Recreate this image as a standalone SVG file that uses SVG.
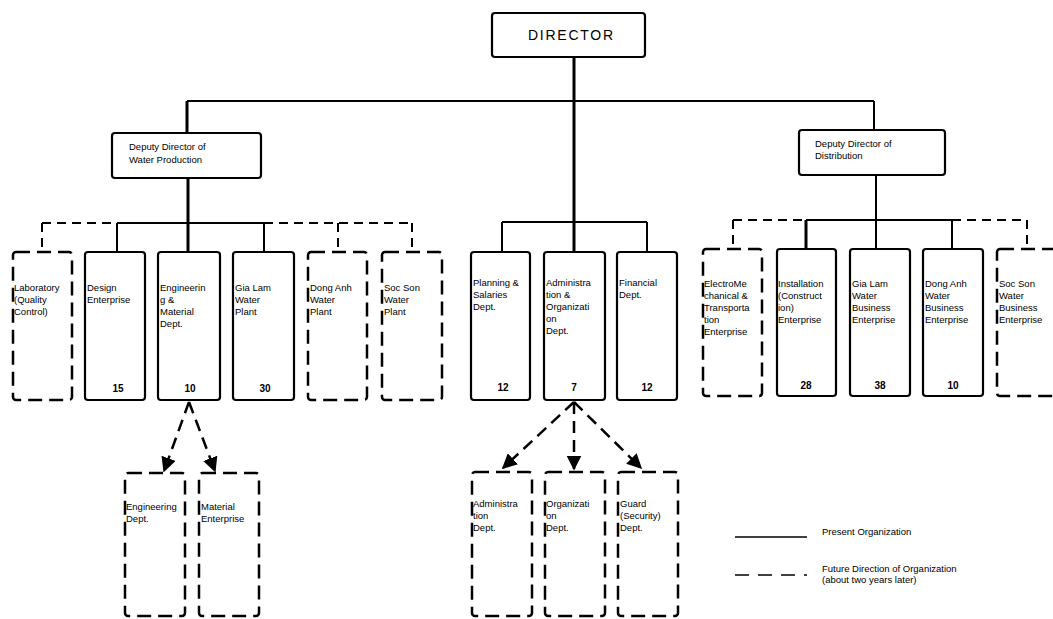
<svg xmlns="http://www.w3.org/2000/svg" width="1053" height="619" viewBox="0 0 1053 619">
<defs>
<style>
.bx{fill:#fff;stroke:#000;stroke-width:2.2}
.fut{fill:#fff;stroke:#000;stroke-width:2.5;stroke-dasharray:14 7}
.t{font-family:"Liberation Sans",Arial,sans-serif;font-size:9.5px;fill:#000}
.n{font-family:"Liberation Sans",Arial,sans-serif;font-size:10px;font-weight:bold;fill:#000;text-anchor:middle}
.ln{stroke:#000;stroke-width:2;fill:none}
.thick{stroke:#000;stroke-width:3;fill:none}
.dl{stroke:#000;stroke-width:2;fill:none;stroke-dasharray:9 6}
.ar{stroke:#000;stroke-width:2.5;fill:none;stroke-dasharray:12 7}
</style>
<marker id="ah" viewBox="0 0 10 10" refX="9" refY="5" markerWidth="6" markerHeight="6" orient="auto" markerUnits="strokeWidth">
<path d="M0,0 L10,5 L0,10 z" fill="#000"/>
</marker>
</defs>
<rect width="1053" height="619" fill="#fff"/>
<g id="connectors">
<line class="thick" x1="574" y1="57" x2="574" y2="252"/>
<line class="ln" x1="187" y1="101" x2="874" y2="101"/>
<line class="thick" x1="187" y1="101" x2="187" y2="133"/>
<line class="thick" x1="188" y1="178" x2="188" y2="252"/>
<line class="ln" x1="874" y1="101" x2="874" y2="130"/>
<line class="ln" x1="876" y1="175" x2="876" y2="249"/>
<line class="dl" x1="42" y1="223" x2="117" y2="223"/>
<line class="ln" x1="117" y1="223" x2="264" y2="223"/>
<line class="dl" x1="264" y1="223" x2="412" y2="223"/>
<line class="dl" x1="42" y1="223" x2="42" y2="252"/>
<line class="ln" x1="117" y1="223" x2="117" y2="252"/>
<line class="ln" x1="264" y1="223" x2="264" y2="252"/>
<line class="dl" x1="338" y1="223" x2="338" y2="252"/>
<line class="dl" x1="412" y1="223" x2="412" y2="252"/>
<line class="ln" x1="502" y1="222" x2="647" y2="222"/>
<line class="ln" x1="502" y1="222" x2="502" y2="252"/>
<line class="ln" x1="647" y1="222" x2="647" y2="252"/>
<line class="dl" x1="733" y1="220" x2="806" y2="220"/>
<line class="ln" x1="806" y1="220" x2="952" y2="220"/>
<line class="dl" x1="952" y1="220" x2="1027" y2="220"/>
<line class="dl" x1="733" y1="220" x2="733" y2="249"/>
<line class="thick" x1="806" y1="220" x2="806" y2="249"/>
<line class="ln" x1="952" y1="220" x2="952" y2="249"/>
<line class="dl" x1="1027" y1="220" x2="1027" y2="249"/>
<line class="ar" x1="189" y1="402" x2="164" y2="471" marker-end="url(#ah)"/>
<line class="ar" x1="189" y1="402" x2="215" y2="471" marker-end="url(#ah)"/>
<line class="ar" x1="574" y1="402" x2="503" y2="468" marker-end="url(#ah)"/>
<line class="ar" x1="574" y1="402" x2="574" y2="469" marker-end="url(#ah)"/>
<line class="ar" x1="574" y1="402" x2="641" y2="468" marker-end="url(#ah)"/>
</g>
<g id="director">
<rect class="bx" x="492" y="13" width="153" height="44" rx="3"/>
<text x="528" y="40" font-family="Liberation Sans,Arial,sans-serif" font-size="14" textLength="85">DIRECTOR</text>
</g>
<g id="dep-water">
<rect class="bx" x="112" y="133" width="149" height="45" rx="3"/>
<text class="t" x="129" y="150">Deputy Director of</text>
<text class="t" x="129" y="163">Water Production</text>
</g>
<g id="dep-dist">
<rect class="bx" x="799" y="130" width="146" height="45" rx="3"/>
<text class="t" x="815" y="147">Deputy Director of</text>
<text class="t" x="815" y="159">Distribution</text>
</g>
<g id="lab">
<rect class="fut" x="13" y="252" width="59" height="148" rx="3"/>
<text class="t" x="14" y="291">Laboratory</text>
<text class="t" x="14" y="303">(Quality</text>
<text class="t" x="14" y="315">Control)</text>
</g>
<g id="design">
<rect class="bx" x="85" y="252" width="60" height="148" rx="3"/>
<text class="t" x="87" y="291">Design</text>
<text class="t" x="87" y="303">Enterprise</text>
<text class="n" x="118" y="392">15</text>
</g>
<g id="engmat">
<rect class="bx" x="158" y="252" width="62" height="148" rx="3"/>
<text class="t" x="160" y="291">Engineerin</text>
<text class="t" x="160" y="303">g &amp;</text>
<text class="t" x="160" y="315">Material</text>
<text class="t" x="160" y="327">Dept.</text>
<text class="n" x="190" y="392">10</text>
</g>
<g id="gialam-plant">
<rect class="bx" x="233" y="252" width="61" height="148" rx="3"/>
<text class="t" x="235" y="291">Gia Lam</text>
<text class="t" x="235" y="303">Water</text>
<text class="t" x="235" y="315">Plant</text>
<text class="n" x="265" y="392">30</text>
</g>
<g id="donganh-plant">
<rect class="fut" x="308" y="252" width="59" height="148" rx="3"/>
<text class="t" x="310" y="291">Dong Anh</text>
<text class="t" x="310" y="303">Water</text>
<text class="t" x="310" y="315">Plant</text>
</g>
<g id="socson-plant">
<rect class="fut" x="382" y="252" width="60" height="148" rx="3"/>
<text class="t" x="384" y="291">Soc Son</text>
<text class="t" x="384" y="303">Water</text>
<text class="t" x="384" y="315">Plant</text>
</g>
<g id="planning">
<rect class="bx" x="471" y="252" width="59" height="148" rx="3"/>
<text class="t" x="473" y="286">Planning &amp;</text>
<text class="t" x="473" y="298">Salaries</text>
<text class="t" x="473" y="310">Dept.</text>
<text class="n" x="503" y="391">12</text>
</g>
<g id="admin">
<rect class="bx" x="544" y="252" width="61" height="148" rx="3"/>
<text class="t" x="546" y="286">Administra</text>
<text class="t" x="546" y="298">tion &amp;</text>
<text class="t" x="546" y="310">Organizati</text>
<text class="t" x="546" y="322">on</text>
<text class="t" x="546" y="334">Dept.</text>
<text class="n" x="574" y="391">7</text>
</g>
<g id="financial">
<rect class="bx" x="617" y="252" width="60" height="148" rx="3"/>
<text class="t" x="619" y="286">Financial</text>
<text class="t" x="619" y="298">Dept.</text>
<text class="n" x="647" y="391">12</text>
</g>
<g id="electro">
<rect class="fut" x="703" y="249" width="59" height="147" rx="3"/>
<text class="t" x="704" y="287">ElectroMe</text>
<text class="t" x="704" y="299">chanical &amp;</text>
<text class="t" x="704" y="311">Transporta</text>
<text class="t" x="704" y="323">tion</text>
<text class="t" x="704" y="335">Enterprise</text>
</g>
<g id="install">
<rect class="bx" x="777" y="249" width="59" height="147" rx="3"/>
<text class="t" x="778" y="287">Installation</text>
<text class="t" x="778" y="299">(Construct</text>
<text class="t" x="778" y="311">ion)</text>
<text class="t" x="778" y="323">Enterprise</text>
<text class="n" x="806" y="389">28</text>
</g>
<g id="gialam-biz">
<rect class="bx" x="850" y="249" width="60" height="147" rx="3"/>
<text class="t" x="852" y="287">Gia Lam</text>
<text class="t" x="852" y="299">Water</text>
<text class="t" x="852" y="311">Business</text>
<text class="t" x="852" y="323">Enterprise</text>
<text class="n" x="880" y="389">38</text>
</g>
<g id="donganh-biz">
<rect class="bx" x="923" y="249" width="60" height="147" rx="3"/>
<text class="t" x="925" y="287">Dong Anh</text>
<text class="t" x="925" y="299">Water</text>
<text class="t" x="925" y="311">Business</text>
<text class="t" x="925" y="323">Enterprise</text>
<text class="n" x="953" y="389">10</text>
</g>
<g id="socson-biz">
<rect class="fut" x="997" y="249" width="62" height="147" rx="3"/>
<text class="t" x="999" y="287">Soc Son</text>
<text class="t" x="999" y="299">Water</text>
<text class="t" x="999" y="311">Business</text>
<text class="t" x="999" y="323">Enterprise</text>
</g>
<g id="eng-dept">
<rect class="fut" x="125" y="473" width="60" height="143" rx="3"/>
<text class="t" x="126" y="510">Engineering</text>
<text class="t" x="126" y="522">Dept.</text>
</g>
<g id="material">
<rect class="fut" x="199" y="473" width="60" height="143" rx="3"/>
<text class="t" x="201" y="510">Material</text>
<text class="t" x="201" y="522">Enterprise</text>
</g>
<g id="admin-dept">
<rect class="fut" x="472" y="472" width="60" height="144" rx="3"/>
<text class="t" x="473" y="507">Administra</text>
<text class="t" x="473" y="519">tion</text>
<text class="t" x="473" y="531">Dept.</text>
</g>
<g id="org-dept">
<rect class="fut" x="545" y="472" width="60" height="144" rx="3"/>
<text class="t" x="546" y="507">Organizati</text>
<text class="t" x="546" y="519">on</text>
<text class="t" x="546" y="531">Dept.</text>
</g>
<g id="guard">
<rect class="fut" x="618" y="472" width="60" height="144" rx="3"/>
<text class="t" x="620" y="507">Guard</text>
<text class="t" x="620" y="519">(Security)</text>
<text class="t" x="620" y="531">Dept.</text>
</g>
<g id="legend">
<line x1="735" y1="537" x2="807" y2="537" stroke="#000" stroke-width="1.5"/>
<text class="t" x="822" y="535">Present Organization</text>
<line x1="735" y1="575" x2="807" y2="575" stroke="#000" stroke-width="1.5" stroke-dasharray="14 9"/>
<text class="t" x="822" y="572">Future Direction of Organization</text>
<text class="t" x="822" y="583">(about two years later)</text>
</g>
</svg>
